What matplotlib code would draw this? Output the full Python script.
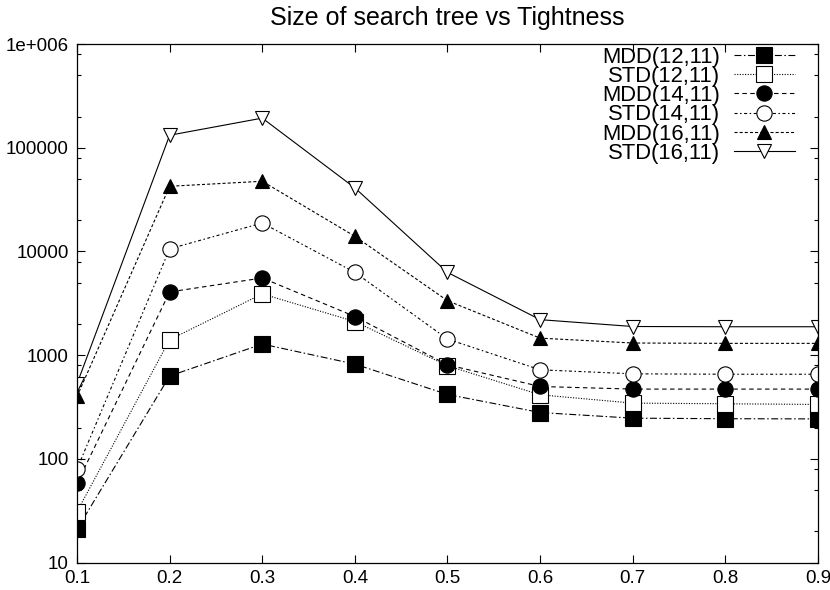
import matplotlib
matplotlib.use("Agg")
import matplotlib.pyplot as plt
import numpy as np

plt.rcParams['font.family'] = ['Liberation Sans', 'DejaVu Sans']
plt.rcParams['lines.scale_dashes'] = False

# data
tightness = [0.1, 0.2, 0.3, 0.4, 0.5, 0.6, 0.7, 0.8, 0.9]
mdd_12 = [21, 630, 1280, 820, 418, 280, 247, 244, 243]
std_12 = [31, 1410, 3900, 2110, 790, 415, 345, 340, 335]
mdd_14 = [58, 4070, 5550, 2360, 807, 499, 471, 471, 471]
std_14 = [80, 10600, 18800, 6280, 1430, 723, 661, 655, 655]
mdd_16 = [400, 42500, 47500, 14000, 3350, 1460, 1310, 1300, 1300]
std_16 = [530, 132000, 193000, 41000, 6280, 2200, 1890, 1880, 1880]

labels = ["MDD(12,11)", "STD(12,11)", "MDD(14,11)",
          "STD(14,11)", "MDD(16,11)", "STD(16,11)"]
xtick_labels = ["0.1", "0.2", "0.3", "0.4", "0.5", "0.6", "0.7", "0.8", "0.9"]
ytick_vals = [10, 100, 1000, 10000, 100000, 1000000]
ytick_labels = ["10", "100", "1000", "10000", "100000", "1e+006"]

fig = plt.figure(figsize=(8.3, 5.9), dpi=100)
ax = fig.add_axes([0.0928, 0.0464, 0.8927, 0.879])

lw = 0.8
series = [
    (mdd_12, 's', 'black', (0, (5, 1.8, 1.1, 1.8)), 11.3),
    (std_12, 's', 'white', (0, (0.8, 1.1)), 11.3),
    (mdd_14, 'o', 'black', (0, (3.2, 2.5)), 11),
    (std_14, 'o', 'white', (0, (2.2, 1.8, 1.1, 1.8)), 11),
    (mdd_16, '^', 'black', (0, (2.2, 1.5)), 10.5),
    (std_16, 'v', 'white', '-', 10.5),
]
for (vals, mk, face, ls, ms), lab in zip(series, labels):
    ax.plot(tightness, vals, linestyle=ls, color='black', linewidth=lw,
            marker=mk, markersize=ms, markerfacecolor=face,
            markeredgecolor='black', markeredgewidth=0.8, label=lab)

ax.set_yscale('log')
ax.set_xlim(0.1, 0.9)
ax.set_ylim(10, 1e6)
ax.set_xticks(tightness, xtick_labels)
ax.set_yticks(ytick_vals, ytick_labels)
minor = []
for d in ytick_vals[:-1]:
    minor += [2 * d, 5 * d, 8 * d]
ax.set_yticks(minor, minor=True)
ax.set_xticks([], minor=True)
ax.tick_params(axis='both', which='major', direction='in', length=5.8,
               width=0.8, top=True, right=True, labelsize=13.5)
ax.tick_params(axis='y', which='minor', direction='in', length=3,
               width=0.8, right=True, labelleft=False)
ax.tick_params(axis='y', which='major', pad=6)
ax.tick_params(axis='x', which='major', pad=5)
for s in ax.spines.values():
    s.set_linewidth(0.9)

ax.set_title("Size of search tree vs Tightness", fontsize=18, pad=14)

ax.legend(loc='upper right', bbox_to_anchor=(0.969, 0.995), frameon=False,
          markerfirst=False, numpoints=1, fontsize=15.8, labelspacing=-0.08,
          handlelength=2.8, handletextpad=0.6, borderpad=0, borderaxespad=0)

fig.savefig("out.png", dpi=100)
